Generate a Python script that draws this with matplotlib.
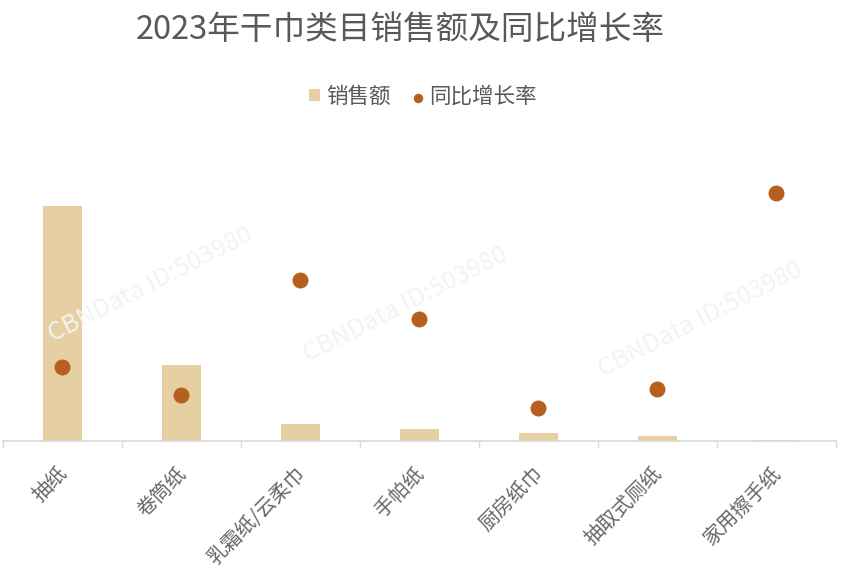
import matplotlib
matplotlib.use("Agg")
import matplotlib.pyplot as plt
import numpy as np

plt.rcParams["font.family"] = ["Noto Sans CJK SC", "DejaVu Sans"]

categories = ["抽纸", "卷筒纸", "乳霜纸/云柔巾", "手帕纸", "厨房纸巾", "抽取式厕纸", "家用擦手纸"]
sales = [235, 76, 17, 12, 8, 5, 1]          # 销售额 (relative units)
growth = [74, 46, 161, 122, 33, 52, 248]    # 同比增长率 (relative units)

BAR = "#e6d0a3"
DOT = "#b5601f"
GREY = "#595959"

fig = plt.figure(figsize=(8.46, 5.87), dpi=100)

# faint watermark
for cx, cy in [(150, 285), (405, 305), (700, 320)]:
    fig.text(cx / 846, 1 - cy / 587, "CBNData ID:503980", fontsize=18, color="#f3f3f3",
             rotation=27, ha="center", va="center", zorder=0)

ax = fig.add_axes([3 / 846, 1 - 441 / 587, 833 / 846, 310 / 587])
ax.set_facecolor("none")
x = np.arange(len(categories))
ax.bar(x, sales, width=0.32, color=BAR, zorder=2, label="销售额")
ax.set_xlim(-0.5, len(categories) - 0.5)
ax.set_ylim(0, 310)

ax2 = ax.twinx()
ax2.scatter(x, growth, s=110, color=DOT, zorder=3, label="同比增长率")
ax2.set_ylim(0, 310)

for a in (ax, ax2):
    for s in ("top", "right", "left"):
        a.spines[s].set_visible(False)
    a.set_yticks([])
ax2.spines["bottom"].set_visible(False)
ax.spines["bottom"].set_color("#d9d9d9")
ax.spines["bottom"].set_linewidth(1.2)

ax.set_xticks(np.arange(len(categories) + 1) - 0.5)
ax.set_xticklabels([])
ax.tick_params(axis="x", length=5, color="#d9d9d9", width=1)
for i, c in enumerate(categories):
    ax.annotate(c, xy=(i, 0), xycoords=("data", "axes fraction"),
                xytext=(-4, -16), textcoords="offset points",
                rotation=45, rotation_mode="anchor", ha="right", va="top",
                fontsize=14.5, color="#666666")

fig.text(400 / 846, 1 - 30 / 587, "2023年干巾类目销售额及同比增长率",
         fontsize=23.5, color=GREY, ha="center", va="center")

h1, l1 = ax.get_legend_handles_labels()
h2, l2 = ax2.get_legend_handles_labels()
fig.legend(h1 + h2, l1 + l2, loc="center", bbox_to_anchor=(423 / 846, 1 - 97 / 587),
           ncol=2, frameon=False, fontsize=15.5, labelcolor=GREY,
           handlelength=0.5, handleheight=0.5, handletextpad=0.3, columnspacing=1.0,
           markerscale=0.55)

fig.savefig("out.png", dpi=100)
